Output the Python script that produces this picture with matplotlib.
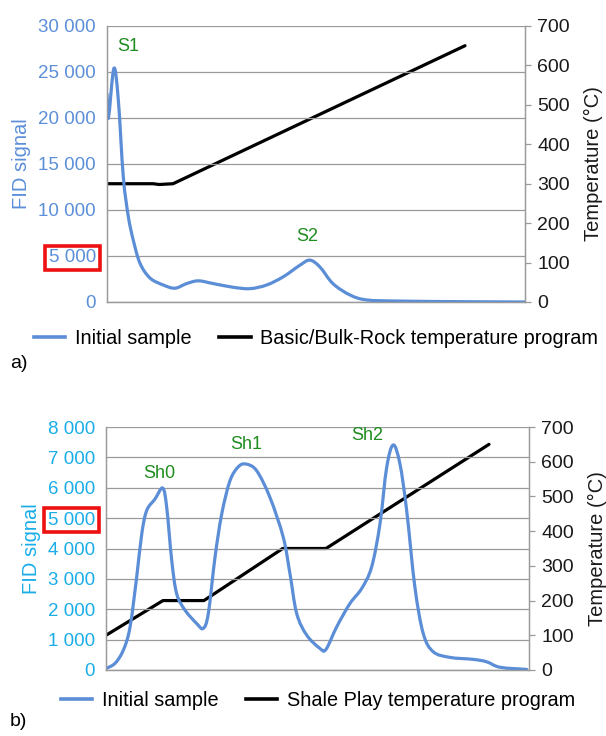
import matplotlib
matplotlib.use("Agg")
import matplotlib.pyplot as plt
from matplotlib.ticker import FuncFormatter, MultipleLocator
from matplotlib.lines import Line2D
from matplotlib.path import Path
from matplotlib.patches import PathPatch

plt.rcParams['font.family'] = ['Liberation Sans', 'DejaVu Sans']

# ---- Panel a: Basic/Bulk-Rock program ----
time_a = [0.0, 0.07, 0.33, 0.54, 0.78, 1.02, 1.26, 1.58, 2.06, 2.69, 3.25, 3.81,
          4.37, 5.09, 6.04, 6.84, 7.64, 8.44, 9.23, 9.71, 10.19, 10.81, 11.63,
          12.44, 14.02, 17.22, 20.0]
fid_a = [22600, 20000, 25400, 22000, 13600, 9300, 6700, 4200, 2600, 1850, 1500, 2000,
         2300, 2000, 1600, 1450, 1850, 2750, 4000, 4550, 3800, 2000, 760,
         220, 100, 30, 0]
temp_time_a = [0.0, 2.2, 2.5, 3.16, 17.13]
temp_a = [300, 300, 298, 300, 650]
peaks_a = [("S1", 1.0, 26900), ("S2", 9.6, 6200)]

# ---- Panel b: Shale Play program ----
time_b = [0.0, 0.66, 1.26, 1.75, 2.24, 2.61, 2.97, 3.58, 4.14, 4.43, 4.80, 5.16,
          5.77, 6.62, 7.10, 7.47, 7.96, 8.45, 9.05, 9.66, 10.22, 11.0, 11.97,
          12.94, 13.43, 13.92, 14.65, 15.62, 16.06, 16.84, 17.81, 18.66, 19.39,
          20.0, 20.49, 20.97, 21.46, 21.95, 22.55, 23.16, 23.89, 25.11, 26.81,
          27.79, 28.76, 30.71]
fid_b = [50, 220, 650, 1400, 3060, 4480, 5250, 5630, 5990, 5360, 3600, 2510,
         1970, 1530, 1370, 1860, 3720, 5140, 6230, 6690, 6780, 6560, 5680,
         4370, 3170, 1860, 1150, 710, 680, 1420, 2190, 2680, 3390,
         4810, 6670, 7410, 6780, 5250, 2730, 1200, 600, 415, 350,
         270, 90, 20]
temp_time_b = [0.0, 4.16, 7.15, 12.9, 16.06, 27.96]
temp_b = [100, 200, 200, 350, 350, 650]
peaks_b = [("Sh0", 3.9, 6200), ("Sh1", 10.2, 7150), ("Sh2", 19.05, 7450)]

BLUE = '#5B8ED6'
GRID = '#9a9a9a'
GREEN = '#1E8C1E'
W, H = 606, 736


def thousands(v, pos):
    v = int(round(v))
    if v >= 1000:
        return f"{v // 1000} {v % 1000:03d}"
    return str(v)


def smooth_path(xs, ys, k=1 / 6):
    """Cubic Bezier path passing through every point (Catmull-Rom style)."""
    pts = list(zip(xs, ys))
    n = len(pts)
    verts = [pts[0]]
    codes = [Path.MOVETO]
    for i in range(n - 1):
        p0 = pts[max(i - 1, 0)]
        p1 = pts[i]
        p2 = pts[i + 1]
        p3 = pts[min(i + 2, n - 1)]
        c1 = (p1[0] + (p2[0] - p0[0]) * k, p1[1] + (p2[1] - p0[1]) * k)
        c2 = (p2[0] - (p3[0] - p1[0]) * k, p2[1] - (p3[1] - p1[1]) * k)
        verts += [c1, c2, p2]
        codes += [Path.CURVE4] * 3
    return Path(verts, codes)


def panel(box, t, fid, tt, temp, ymax, ystep, xmax, tick_color, peaks, legend_label,
          legend_y, legend_x, tag, tag_y):
    l, top, r, bot = box
    ax = fig.add_axes([l / W, (H - bot) / H, (r - l) / W, (bot - top) / H])
    ax2 = ax.twinx()
    ax.set_zorder(ax2.get_zorder() + 1)
    ax.patch.set_visible(False)

    ax.add_patch(PathPatch(smooth_path(t, fid), fc='none', ec=BLUE, lw=2.3,
                           joinstyle='round', capstyle='round'))
    ax2.plot(tt, temp, color='black', lw=2.3, solid_joinstyle='round',
             solid_capstyle='round')

    ax.set_xlim(0, xmax)
    ax.set_ylim(0, ymax)
    ax2.set_ylim(0, 700)
    ax.yaxis.set_major_locator(MultipleLocator(ystep))
    ax.yaxis.set_major_formatter(FuncFormatter(thousands))
    ax2.yaxis.set_major_locator(MultipleLocator(100))
    ax.grid(axis='y', color=GRID, lw=0.9)
    ax.set_axisbelow(True)
    ax.set_xticks([])

    for a in (ax, ax2):
        a.spines['top'].set_visible(False)
        for s in ('left', 'right', 'bottom'):
            a.spines[s].set_color(GRID)
            a.spines[s].set_linewidth(0.9)

    ax.tick_params(axis='y', length=0, pad=8, labelsize=13.5, labelcolor=tick_color)
    ax2.tick_params(axis='y', length=4, width=0.9, color=GRID, pad=5,
                    labelsize=14, labelcolor='#1a1a1a')
    ax.set_ylabel("FID signal", color=tick_color, fontsize=14.5, labelpad=5)
    ax2.set_ylabel("Temperature (°C)", color='#1a1a1a', fontsize=14.5, labelpad=10)

    for name, px, py in peaks:
        ax.text(px, py, name, color=GREEN, fontsize=13, ha='center', va='bottom')

    fig.canvas.draw()
    for lab in ax.get_yticklabels():
        if lab.get_text() == "5 000":
            lab.set_bbox(dict(boxstyle='square,pad=0.2', fc='none', ec='#ee1111', lw=2.6))

    handles = [Line2D([], [], color=BLUE, lw=2.6),
               Line2D([], [], color='black', lw=2.6)]
    fig.legend(handles, ["Initial sample", legend_label], loc='center',
               bbox_to_anchor=(legend_x / W, (H - legend_y) / H), ncol=2,
               frameon=False, fontsize=14.3, handlelength=1.6, handletextpad=0.5,
               columnspacing=1.35, borderpad=0.2)
    fig.text(10 / W, (H - tag_y) / H, tag, fontsize=14, va='center', ha='left')


fig = plt.figure(figsize=(W / 100, H / 100), dpi=100)

panel((107, 26, 525, 302), time_a, fid_a, temp_time_a, temp_a, 30000, 5000, 20.0,
      '#5B8FD8', peaks_a, "Basic/Bulk-Rock temperature program", 338, 316, "a)", 363)
panel((106, 427, 529, 670), time_b, fid_b, temp_time_b, temp_b, 8000, 1000, 30.88,
      '#1AADE8', peaks_b, "Shale Play temperature program", 700, 318, "b)", 722)

fig.savefig("out.png", dpi=100)
